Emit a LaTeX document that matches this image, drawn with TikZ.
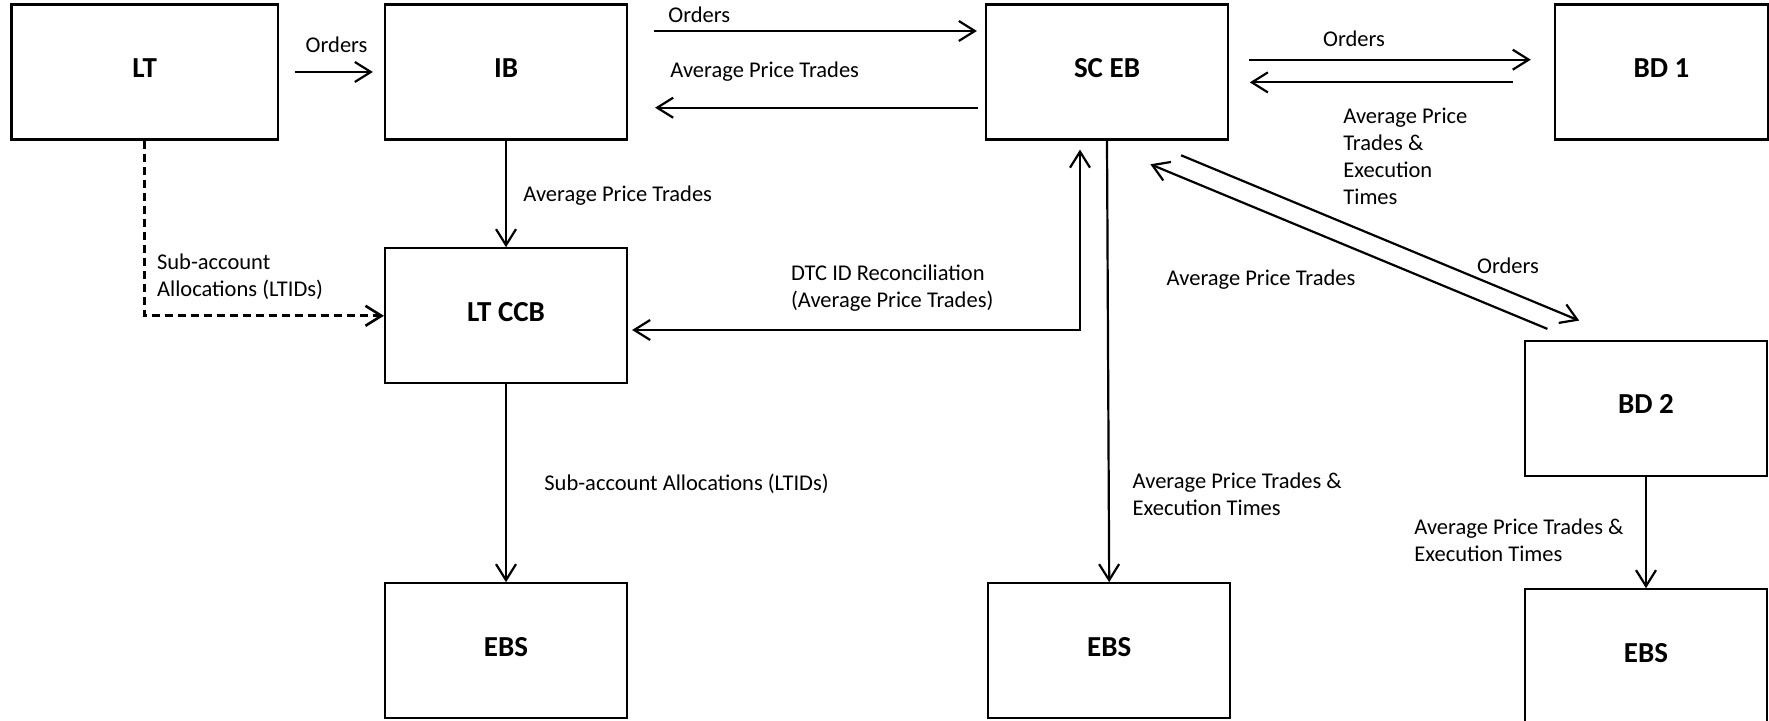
\documentclass[tikz,border=0pt]{standalone}
\usepackage{fontspec}
\setmainfont{Carlito}
\usetikzlibrary{arrows.meta,calc}
\tikzset{box/.style={draw=black,line width=1.1pt,minimum width=121pt,minimum height=67.5pt,inner sep=0pt,text depth=4pt,align=center,font=\bfseries\fontsize{14.5}{17}\selectfont},arrow/.style={-{Straight Barb[length=8pt,width=10pt]},line width=1.1pt},lab/.style={font=\fontsize{11.25}{13.6}\selectfont,align=left,inner sep=0pt}}

\begin{document}
\begin{tikzpicture}[x=0.5pt,y=-0.5pt]
\useasboundingbox (0,0) rectangle (1769,721);
\node[box,minimum width=133.25pt] (lt) at (144.7,72) {LT};
\node[box] (ib) at (506,72) {IB};
\node[box] (sceb) at (1107,72) {SC EB};
\node[box,minimum width=106.5pt] (bd1) at (1661.4,72) {BD 1};
\node[box] (ltccb) at (506,315.8) {LT CCB};
\node[box] (bd2) at (1646,408.2) {BD 2};
\node[box] (ebsa) at (506,650.8) {EBS};
\node[box] (ebsb) at (1109.2,650.8) {EBS};
\node[box] (ebsc) at (1646,656.8) {EBS};
% straight down
\foreach \a/\b in {ib/ltccb,ltccb/ebsa,sceb/ebsb,bd2/ebsc}{\draw[arrow](\a.south)--(\b.north);}
% top row
\draw[arrow,shorten <=16pt/2,shorten >=11pt/2] (lt.east)--(ib.west);
\draw[arrow] ($(ib.north east)+(26,27.6)$)--($(sceb.north west)+(-8,27.6)$);
\draw[arrow] ($(sceb.north west)+(-7,104.3)$)--($(ib.north east)+(27,104.3)$);
\draw[arrow] ($(sceb.north east)+(20,56.3)$)--($(bd1.north west)+(-23,56.3)$);
\draw[arrow] ($(bd1.north west)+(-41,79)$)--($(sceb.north east)+(20.7,79)$);
% diagonals
\draw[arrow] ($(sceb.south east)+(-48,14.7)$)--($(bd2.north west)+(55.3,-19)$);
\draw[arrow] ($(bd2.north west)+(23.5,-10.7)$)--($(sceb.south east)+(-78.7,23.7)$);
% dashed and reconciliation
\draw[arrow,line width=1.3pt,dash pattern=on 4pt off 2.5pt] (lt.south)|-(ltccb.west);
\draw[arrow,{Straight Barb[length=8pt,width=10pt]}-{Straight Barb[length=8pt,width=10pt]}] ($(ltccb.east)+(4,14.2)$)-|($(sceb.south)+(-27,9)$);
% labels
\node[lab] (l1) at (336.6,45) {Orders};
\node[lab,anchor=west] (l2) at (668,14.3) {Orders};
\node[lab,anchor=west] (l3) at (670,71.7) {Average Price Trades};
\node[lab] (l4) at (1354,38.3) {Orders};
\node[lab,anchor=west] (l5) at (1343,156.5) {Average Price\\Trades \&\\Execution\\Times};
\node[lab,anchor=west] (l6) at (523,196) {Average Price Trades};
\node[lab,anchor=west] (l7) at (156.7,276.5) {Sub-account\\Allocations (LTIDs)};
\node[lab,anchor=west] (l8) at (790.7,288.3) {DTC ID Reconciliation\\(Average Price Trades)};
\node[lab] (l9) at (1508,265.7) {Orders};
\node[lab] (l10) at (1261,279.3) {Average Price Trades};
\node[lab,anchor=west] (l11) at (544,484.3) {Sub-account Allocations (LTIDs)};
\node[lab,anchor=west] (l12) at (1132.3,494.2) {Average Price Trades \&\\Execution Times};
\node[lab,anchor=west] (l13) at (1414,540) {Average Price Trades \&\\Execution Times};
\end{tikzpicture}
\end{document}
